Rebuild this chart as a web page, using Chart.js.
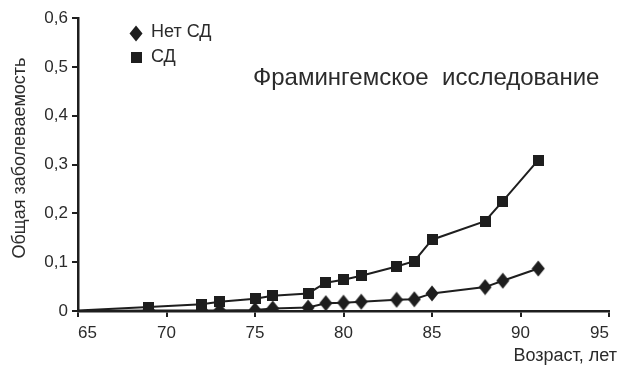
<!DOCTYPE html>
<html><head><meta charset="utf-8">
<script src="https://cdn.jsdelivr.net/npm/chart.js@4"></script>
<style>html,body{margin:0;padding:0;background:#fff}#c{display:block}</style>
</head><body>
<canvas id="c" width="618" height="365"></canvas>
<script>
const ages = [65, 69, 72, 73, 75, 76, 78, 79, 80, 81, 83, 84, 85, 88, 89, 91];
const noDiabetes = [0, 0.001, 0.001, 0.001, 0.002, 0.005, 0.007, 0.016, 0.017, 0.019, 0.023, 0.024, 0.036, 0.049, 0.062, 0.087];
const diabetes = [0.001, 0.008, 0.014, 0.019, 0.025, 0.031, 0.036, 0.058, 0.064, 0.072, 0.091, 0.102, 0.146, 0.184, 0.225, 0.309];
const seriesNames = ['Нет СД', 'СД'];
const xTicks = [65, 70, 75, 80, 85, 90, 95];
const yTicks = [0, 0.1, 0.2, 0.3, 0.4, 0.5, 0.6];
const chartTitle = 'Фрамингемское  исследование';
const xTitle = 'Возраст, лет';
const yTitle = 'Общая заболеваемость';

const FONT = '"Liberation Sans", Arial, sans-serif';
const INK = '#1e1e1e';
const TXT = '#2b2b2b';

function pts(vals){ return ages.map((a,i)=>({x:a, y:vals[i]})); }

function diamondImg(){
  const c = document.createElement('canvas'); c.width = 14; c.height = 17;
  const g = c.getContext('2d'); g.fillStyle = INK;
  g.beginPath(); g.moveTo(7,0.5); g.lineTo(13.5,8.5); g.lineTo(7,16.5); g.lineTo(0.5,8.5); g.closePath(); g.fill();
  return c;
}
function squareImg(){
  const c = document.createElement('canvas'); c.width = 11; c.height = 11;
  const g = c.getContext('2d'); g.fillStyle = INK; g.fillRect(0,0,11,11);
  return c;
}
const dImg = diamondImg(), sImg = squareImg();
const blank = document.createElement('canvas'); blank.width = 1; blank.height = 1;
const dStyles = ages.map((a,i)=> i===0 ? blank : dImg);
const sStyles = ages.map((a,i)=> i===0 ? blank : sImg);

const overlay = {
  id:'overlay',
  afterDraw(chart){
    const ctx = chart.ctx;
    ctx.save();
    ctx.fillStyle = TXT;
    ctx.textBaseline = 'middle';
    ctx.textAlign = 'left';
    ctx.font = '24px ' + FONT;
    ctx.fillText(chartTitle, 253, 78);
    ctx.font = '18px ' + FONT;
    ctx.fillText(seriesNames[0], 151, 32);
    ctx.fillText(seriesNames[1], 151, 57);
    ctx.drawImage(dImg, 129, 25);
    ctx.drawImage(sImg, 131, 52);
    ctx.fillStyle = TXT;
    ctx.textAlign = 'right';
    ctx.fillText(xTitle, 617, 356);
    ctx.translate(20, 158);
    ctx.rotate(-Math.PI/2);
    ctx.textAlign = 'center';
    ctx.fillText(yTitle, 0, 0);
    ctx.restore();
  }
};

new Chart(document.getElementById('c'), {
  type: 'scatter',
  data: {
    datasets: [
      { label: seriesNames[0], data: pts(noDiabetes), showLine: true,
        borderColor: INK, backgroundColor: INK, borderWidth: 2,
        pointStyle: dStyles, pointRadius: 7 },
      { label: seriesNames[1], data: pts(diabetes), showLine: true,
        borderColor: INK, backgroundColor: INK, borderWidth: 2,
        pointStyle: sStyles, pointRadius: 6 }
    ]
  },
  options: {
    responsive: false, animation: false,
    layout: { padding: { top: 18, right: 2, left: 0, bottom: 0 } },
    plugins: { legend: { display: false }, tooltip: { enabled: false } },
    scales: {
      x: {
        type: 'linear', min: 65, max: 95,
        afterBuildTicks(s){ s.ticks = xTicks.map(v=>({value:v})); },
        afterFit(s){ s.height = 54; s.paddingLeft = 0; s.paddingRight = 0; },
        grid: { drawOnChartArea: false, drawTicks: true, tickLength: 6, color: INK, lineWidth: 2 },
        border: { display: true, color: INK, width: 2.5 },
        ticks: { color: TXT, font: { family: FONT, size: 17 }, padding: 6, align: 'inner', maxRotation: 0 }
      },
      y: {
        type: 'linear', min: 0, max: 0.6,
        afterBuildTicks(s){ s.ticks = yTicks.map(v=>({value:v})); },
        afterFit(s){ s.width = 78; s.paddingTop = 0; s.paddingBottom = 0; },
        grid: { drawOnChartArea: false, drawTicks: true, tickLength: 6, color: INK, lineWidth: 2 },
        border: { display: true, color: INK, width: 2.5 },
        ticks: { color: TXT, font: { family: FONT, size: 17 }, padding: 4,
          callback: v => v === 0 ? '0' : v.toFixed(1).replace('.', ',') }
      }
    }
  },
  plugins: [overlay]
});
</script>
</body></html>
